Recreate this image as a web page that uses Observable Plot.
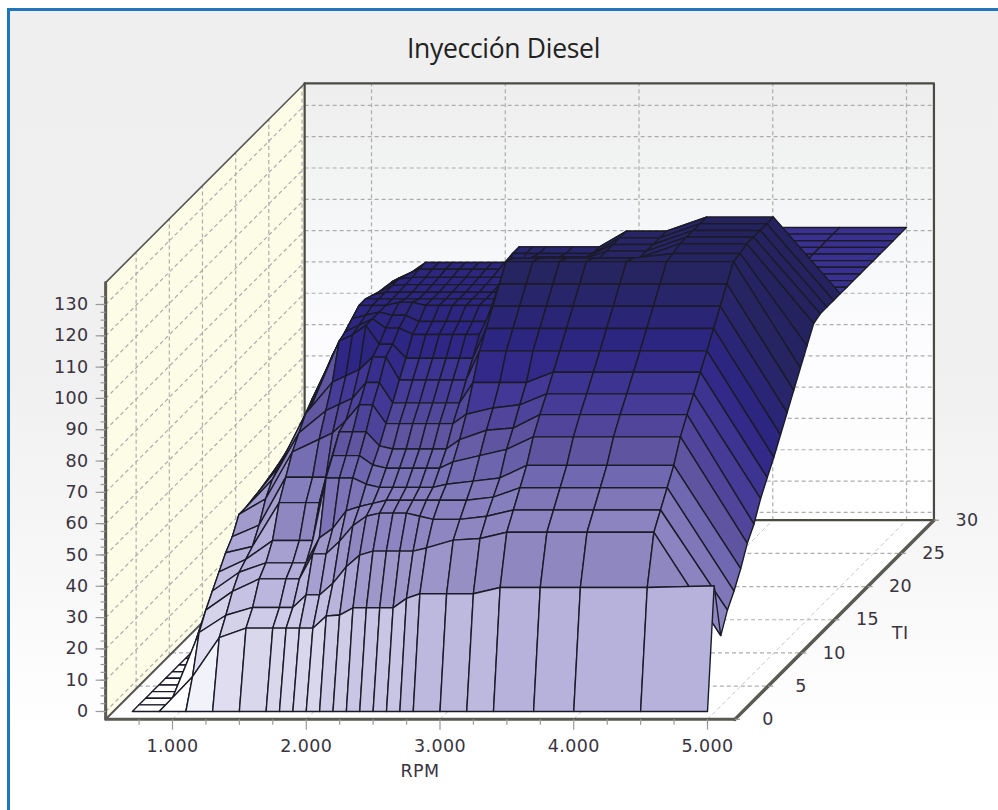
<!DOCTYPE html>
<html lang="es">
<head>
<meta charset="utf-8">
<title>Inyección Diesel</title>
<script src="https://cdn.jsdelivr.net/npm/d3@7"></script>
<script src="https://cdn.jsdelivr.net/npm/@observablehq/plot@0.6"></script>
<style>
html,body{margin:0;padding:0;background:#fff;overflow:hidden}
#frame{position:absolute;left:7px;top:8px;width:991px;height:802px;border-left:3px solid #1f76bd;border-top:3px solid #1f76bd;
background:linear-gradient(#efefef 0,#f0f0f0 45%,#f8f8f8 72%,#ffffff 90%)}
#wall{position:absolute;left:305px;top:84px;width:628px;height:437px;background:linear-gradient(#eeeeee 0,#f6f7f8 35%,#fcfcfe 60%,#ffffff 100%)}
#title{position:absolute;left:0;width:1007px;top:30px;text-align:center;font:26.5px "Open Sans",sans-serif;color:#222;letter-spacing:-.3px;z-index:2}
svg text{letter-spacing:.4px}
</style>
</head>
<body>
<div id="frame"></div>
<div id="wall"></div>
<div id="title">Inyección Diesel</div>
<script>
const title = "Inyección Diesel";
const rpmValues = [700,900,1100,1300,1500,1700,1800,1900,2000,2100,2200,2300,2400,2500,2600,2700,2800,3000,3200,3400,3700,4000,4500,5000];
const tiValues = d3.range(0, 31);
// one row per TI value, one column per RPM value
const injection = [
[0,0,0,0,0,0,0,0,0,0,0,0,0,0,0,0,0,0,0,0,0,0,0,0],
[0,0,9,21.5,24.5,24.5,24.5,24.5,24.5,28.4,28.7,31,31,31,31,34,35.5,35.5,35.5,37.5,37.5,37.5,37.5,38],
[0,0,21,26.5,29,29,29,33,33,36.7,42,45.7,47,47,47,47,48,50.5,51,53,53,53,53,20],
[0,0,26,32,36,36,36,44,44,48,53,56,57,57,57,56,55,55,56,58,58,58,58,26],
[0,0,30,36,39,39,39,47,50,55.6,57,58,59,59,59,59,59,59,60,63,63,63,63,30],
[0,0,34,38,44,44,44,64,64,64,62,61,61,61,61,61,62,63,64,68,68,68,68,35],
[0,0,38,40,54,54,54,69,69,69,66,65,65,65,65,65,67,69,71,75,75,75,75,41],
[0,0,41,44.7,60,60,60,74.5,74.5,74.5,70,69,69,69,69,69,72,75,75.7,80,80,80,80,45],
[0,0,46,51,66,70,72,76,81,81,75,75,75,75,75,75,78,80,81,84.5,84.5,84.5,84.5,51],
[0,0,46,55,70,77,79,81,86,86,79.5,79.5,79.5,79.5,79.5,79.5,86,86,86,89.3,89.3,89.3,89.3,55.6],
[0,0,46.5,57,74,84,86,88,92,92,84.7,84.7,84.7,84.7,84.7,84.7,94,94,94,94,94,94,94,60],
[0,0,47,58.7,75,95,97,100,94,94,89.5,89.5,89.5,89.5,89.5,89.5,99,99,99,99,99,99,99,65],
[0,0,47.5,60,77,96,98,100,97,97,95,95,95,95,95,95,104,104,104,104,104,104,104,70],
[0,0,48,62,80,98,99,100,99,99,97,97,97,97,97,97,109,109,109,109,109,109,109,75],
[0,0,48,64,84,100,100,100,101,101,100,100,100,100,100,100,114,114,114,114,114,114,114,80],
[0,0,49,68,86,100,100,100,100,100,100,100,100,100,100,100,113,113,113,113,113,114.5,114.5,85],
[0,0,50,70,86,99,100,100,100,100,100,100,100,100,100,100,110,110,110,111,111,115.5,115.5,90],
[0,0,52,72,86,98,100,100.3,100.3,100.3,100.3,100.3,100.3,100.3,100.3,100.3,108,108,108,111,111,115.5,115.5,91],
[0,0,54,73,86,97.5,100,100.5,100.5,100.5,100.5,100.5,100.5,100.5,100.5,103,107,107,107,111,111,115.5,115.5,91],
[0,0,55,74,86,97,99,101,101,101,101,101,101,101,106,106,106,106,106,111,111,115.5,115.5,91],
[0,0,57,75,86,96,98,101,101,101,101,101,101,101,106,106,106,106,106,111,111,115.5,115.5,91],
[0,0,58,72,72,75,75,75,75,75,75,75,75,75,80,80,80,80,80,85,85,91,91,91],
[0,0,50,70,70,75,75,75,75,75,75,75,75,75,80,80,80,80,80,85,85,91,91,91],
[0,0,50,70,70,75,75,75,75,75,75,75,75,75,80,80,80,80,80,85,85,91,91,91],
[0,0,50,60,70,75,75,75,75,75,75,75,75,75,80,80,80,80,80,85,85,91,91,91],
[0,0,50,60,70,75,75,75,75,75,75,75,75,75,80,80,80,80,80,85,85,91,91,91],
[0,0,50,60,70,75,75,75,75,75,75,75,75,75,80,80,80,80,80,85,85,91,91,91],
[0,0,50,60,70,75,75,75,75,75,75,75,75,75,80,80,80,80,80,85,85,91,91,91],
[0,0,50,60,70,75,75,75,75,75,75,75,75,75,80,80,80,80,80,85,85,91,91,91],
[0,0,50,60,70,75,75,75,75,75,75,75,75,75,80,80,80,80,80,85,85,91,91,91],
[0,0,50,60,70,75,75,75,75,75,75,75,75,75,80,80,80,80,80,85,85,91,91,91]
];
const rpmTicks = [1000,2000,3000,4000,5000];
const rpmMinor = [750,1250,1500,1750,2250,2500,2750,3250,3500,3750,4250,4500,4750,5000];
const tiTicks = [0,5,10,15,20,25,30];
const valueTicks = [0,10,20,30,40,50,60,70,80,90,100,110,120,130];
const valueMinor = d3.range(0, 135, 2.5);
const shadeValues = [0,9,22,25,31,38,53,58,63,68,75,80,85,91,95,100,105,110,115.5];
const shadeColors = ["#ffffff","#f2f2fa","#dedcef","#d8d6ea","#c8c5e5","#b5b0da","#8f88c0","#8b84c1","#7f77b8","#7068b0","#5e549f","#50459b","#453a96","#3a308f","#2f2686","#2c2680","#2a2672","#272568","#25235f"];

// oblique axes: one TI unit moves a point right and up by a fixed share of the other two axes
const rpmPerTi = 49.6, valuePerTi = 2.12;
const rpmLeft = 500, rpmRight = 5205, floorValue = -2.5, wallTop = 137, tiBack = 30;
const X = (rpm, ti) => rpm + ti * rpmPerTi;
const Y = (v, ti) => v + ti * valuePerTi;

const quads = [];
for (let r = injection.length - 2; r >= 0; --r) {
  for (let c = 0; c < rpmValues.length - 1; ++c) {
    const shade = injection[r + 1][c];
    const corners = [[r, c], [r, c + 1], [r + 1, c + 1], [r + 1, c], [r, c]];
    for (const [a, b] of corners) {
      quads.push({id: r * 100 + c, x: X(rpmValues[b], tiValues[a]), y: Y(injection[a][b], tiValues[a]), shade});
    }
  }
}
const poly = (pts) => pts.map(([rpm, ti, v]) => ({x: X(rpm, ti), y: Y(v, ti)}));
const leftWall = poly([[rpmLeft,0,floorValue],[rpmLeft,tiBack,floorValue],[rpmLeft,tiBack,wallTop],[rpmLeft,0,wallTop],[rpmLeft,0,floorValue]]);
const floor = poly([[rpmLeft,0,floorValue],[rpmRight,0,floorValue],[rpmRight,tiBack,floorValue],[rpmLeft,tiBack,floorValue],[rpmLeft,0,floorValue]]);
const lineOf = (pts, o) => Plot.line(poly(pts), {x: "x", y: "y", ...o});
const seg = (data, a, b, o) => Plot.link(data, {
  x1: d => X(...a(d)), y1: d => Y(a(d)[2], a(d)[1]),
  x2: d => X(...b(d)), y2: d => Y(b(d)[2], b(d)[1]), ...o});
const dash = {stroke: "#adadad", strokeWidth: 1.2, strokeDasharray: "4,3"};
const thin = {stroke: "#c4c4c4", strokeWidth: 1, strokeDasharray: "4,3"};
const frameLine = {stroke: "#4a4a42", strokeWidth: 2.2};
const tickLine = {stroke: "#999", strokeWidth: 1.2};
const label = {fontFamily: "DejaVu Sans, sans-serif", fontSize: 17.5, fill: "#3a3340"};

const chart = Plot.plot({
  width: 998, height: 810,
  marginTop: 0, marginRight: 0, marginBottom: 0, marginLeft: 0,
  x: {domain: [1000, 5000], range: [172, 707], axis: null},
  y: {domain: [0, 130], range: [711, 304], axis: null},
  color: {type: "linear", domain: shadeValues, range: shadeColors},
  style: {background: "transparent", position: "absolute", left: "0px", top: "0px", overflow: "visible"},
  marks: [
    Plot.line(floor, {x: "x", y: "y", fill: "#ffffff", stroke: "none"}),
    Plot.line(leftWall, {x: "x", y: "y", fill: "#fdfce6", stroke: "none"}),
    seg(valueTicks, v => [rpmLeft, tiBack, v], v => [rpmRight, tiBack, v], dash),
    seg(rpmTicks, r => [r, tiBack, floorValue], r => [r, tiBack, wallTop], dash),
    seg(valueTicks, v => [rpmLeft, 0, v], v => [rpmLeft, tiBack, v], dash),
    seg(tiTicks.slice(1), t => [rpmLeft, t - 0.4, floorValue], t => [rpmLeft, t - 0.4, wallTop], dash),
    seg(tiTicks.slice(1, -1), t => [rpmLeft, t, floorValue], t => [rpmRight, t, floorValue], dash),
    seg(rpmTicks, r => [r, 0, floorValue], r => [r, tiBack, floorValue], thin),
    lineOf([[rpmLeft,0,wallTop],[rpmLeft,tiBack,wallTop]], {stroke: "#555", strokeWidth: 1.6}),
    lineOf([[rpmLeft,tiBack,wallTop],[rpmRight,tiBack,wallTop],[rpmRight,tiBack,floorValue]], frameLine),
    lineOf([[rpmLeft,tiBack,wallTop],[rpmLeft,tiBack,floorValue],[rpmRight,tiBack,floorValue]], frameLine),
    lineOf([[rpmLeft,0,floorValue],[rpmLeft,tiBack,floorValue]], {stroke: "#555", strokeWidth: 2}),
    lineOf([[rpmLeft,0,wallTop],[rpmLeft,0,floorValue],[rpmRight,0,floorValue]], {stroke: "#5a5a52", strokeWidth: 3}),
    lineOf([[rpmRight,0,floorValue],[rpmRight,tiBack,floorValue]], {stroke: "#5a5a52", strokeWidth: 3.4}),
    seg(rpmTicks, r => [r, 0, floorValue], r => [r, 0, -5.8], tickLine),
    seg(rpmMinor, r => [r, 0, floorValue], r => [r, 0, -4.2], tickLine),
    seg(valueTicks, v => [rpmLeft, 0, v], v => [rpmLeft - 75, 0, v], tickLine),
    seg(valueMinor, v => [rpmLeft, 0, v], v => [rpmLeft - 38, 0, v], tickLine),
    seg(tiTicks, t => [rpmRight, t, floorValue], t => [rpmRight + 38, t, floorValue], tickLine),
    Plot.line(quads, {x: "x", y: "y", z: "id", fill: "shade", stroke: "#1b1b28", strokeWidth: 1.4, strokeLinejoin: "round"}),
    Plot.text(rpmTicks, {x: d => d, y: -11, text: d => d3.format(",")(d).replace(",", "."), ...label}),
    Plot.text(["RPM"], {x: 2850, y: -19.2, text: d => d, ...label}),
    Plot.text(valueTicks, {x: rpmLeft, y: d => d, text: d => String(d), textAnchor: "end", dx: -17, ...label}),
    Plot.text(tiTicks, {x: d => X(rpmRight, d), y: d => Y(floorValue, d), text: d => String(d), dx: 33, ...label}),
    Plot.text(["TI"], {x: X(rpmRight, 13), y: Y(floorValue, 13), text: d => d, dx: 79, ...label})
  ]
});
document.body.appendChild(chart);
</script>
</body>
</html>
